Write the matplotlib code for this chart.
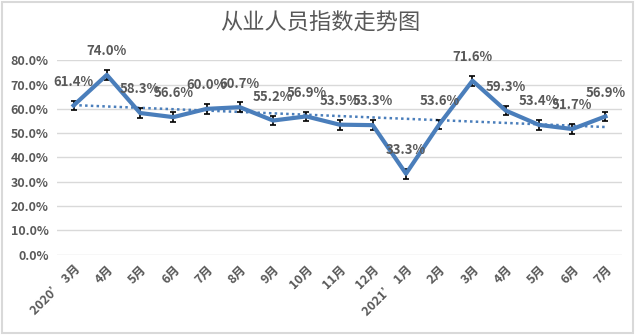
import numpy as np
import matplotlib.pyplot as plt
from matplotlib.patches import Rectangle

plt.rcParams['font.family'] = ['Noto Sans CJK SC', 'DejaVu Sans']

months = ["2020’ 3月", "4月", "5月", "6月", "7月", "8月", "9月", "10月", "11月", "12月",
          "2021’ 1月", "2月", "3月", "4月", "5月", "6月", "7月"]
values = [61.4, 74.0, 58.3, 56.6, 60.0, 60.7, 55.2, 56.9, 53.5, 53.3,
          33.3, 53.6, 71.6, 59.3, 53.4, 51.7, 56.9]
err = 2.0

blue = '#4a7ebb'
grey = '#595959'

fig = plt.figure(figsize=(6.4, 3.35), dpi=100)
ax = fig.add_axes([0.089, 0.24, 0.883, 0.58])

x = np.arange(len(values))
ax.errorbar(x, values, yerr=err, color=blue, lw=3, ecolor='black', elinewidth=1.2,
            capsize=2.5, capthick=1.2, zorder=3)

# linear trend line
k, b = np.polyfit(x, values, 1)
ax.plot(x, k * x + b, color=blue, lw=1.8, ls=(0, (1, 1.3)), zorder=2)

for xi, v in zip(x, values):
    ax.annotate(f"{v:.1f}%", (xi, v), xytext=(0, 12), textcoords='offset points',
                ha='center', va='bottom', fontsize=9.5, fontweight='bold', color=grey, zorder=4)

ax.set_xlim(-0.5, len(values) - 0.5)
ax.set_ylim(0, 80)
ax.set_yticks(np.arange(0, 81, 10))
ax.set_yticklabels([f"{t:.1f}%" for t in np.arange(0, 81, 10)], fontsize=9,
                   fontweight='bold', color=grey)
ax.set_xticks(x)
ax.set_xticklabels(months, rotation=45, ha='right', rotation_mode='anchor',
                   fontsize=9, fontweight='bold', color=grey)
ax.tick_params(length=0, pad=6)
ax.grid(axis='y', color='#d9d9d9', lw=1)
ax.set_axisbelow(True)
for s in ax.spines.values():
    s.set_visible(False)

fig.text(0.5, 0.93, "从业人员指数走势图", ha='center', va='center', fontsize=16,
         color=grey)

fig.patches.append(Rectangle((0.003, 0.006), 0.986, 0.988, transform=fig.transFigure,
                             fill=False, ec='#d9d9d9', lw=1.5))

fig.savefig('out.png', dpi=100)
